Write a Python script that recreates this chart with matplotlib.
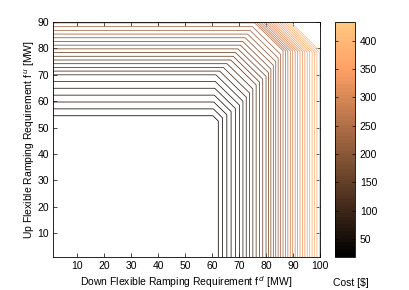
"""
Cost contours over down / up flexible ramping requirement
"""

import numpy as np
import matplotlib
matplotlib.use('Agg')
import matplotlib.pyplot as plt

plt.rcParams['font.family'] = ['Liberation Sans', 'DejaVu Sans']
plt.rcParams['font.size'] = 7.5

# cost read along the down requirement axis (vertical contour positions)
fd_pts = [1.0, 60.7, 70.2, 80.0, 100.0]
fd_cost = [18.0, 18.0, 83.5, 171.0, 414.0]

# cost read along the up requirement axis (horizontal contour positions)
fu_pts = [1.0, 51.9, 67.5, 70.0, 89.6, 95.0]
fu_cost = [18.0, 18.0, 83.5, 94.4, 247.0, 280.0]

# cost read along fd + fu (corner chamfers), infeasible above 180 MW
sum_pts = [2.0, 112.0, 142.5, 165.4, 180.0]
sum_cost = [18.0, 18.0, 138.0, 247.0, 433.0]
sum_limit = 180.0

cost_min, cost_max = 18.0, 433.0
n_levels = 37

# surface built from the three read-off profiles
fd = np.linspace(1, 100, 500)
fu = np.linspace(1, 90, 450)
FD, FU = np.meshgrid(fd, fu)
cost = np.maximum.reduce([
    np.interp(FD, fd_pts, fd_cost),
    np.interp(FU, fu_pts, fu_cost),
    np.interp(FD + FU, sum_pts, sum_cost),
])
cost[FD + FU > sum_limit] = np.nan

levels = np.linspace(cost_min, cost_max, n_levels + 2)[1:-1]
cmap = plt.get_cmap('copper', 64)

fig = plt.figure(figsize=(4.09, 2.90), dpi=100)
ax = fig.add_axes([0.1296, 0.1138, 0.6528, 0.8103])
cs = ax.contour(FD, FU, cost, levels=levels, cmap=cmap,
                vmin=cost_min, vmax=cost_max, linewidths=0.55)

ax.set_xlim(1, 100)
ax.set_ylim(1, 90)
ax.set_xticks(range(10, 101, 10))
ax.set_yticks(range(10, 91, 10))
ax.tick_params(direction='in', length=3, width=0.5, top=True, right=True,
               pad=3, labelsize=7.5)
for sp in ax.spines.values():
    sp.set_linewidth(0.6)
ax.set_xlabel('Down Flexible Ramping Requirement f$^{\\,d}$ [MW]', labelpad=2)
ax.set_ylabel('Up Flexible Ramping Requirement f$^{\\,u}$ [MW]', labelpad=0)

cax = fig.add_axes([0.819, 0.1138, 0.049, 0.8103])
sm = matplotlib.cm.ScalarMappable(norm=matplotlib.colors.Normalize(cost_min, cost_max), cmap=cmap)
cb = fig.colorbar(sm, cax=cax)
cb.set_ticks(range(50, 401, 50))
cb.ax.tick_params(direction='in', length=2.5, width=0.5, left=True, right=True,
                  labelsize=7.5)
cb.outline.set_linewidth(0.6)
fig.text(0.858, 0.024, 'Cost [$]', ha='center', va='center', fontsize=7.5)

fig.savefig('out.png', dpi=100)
